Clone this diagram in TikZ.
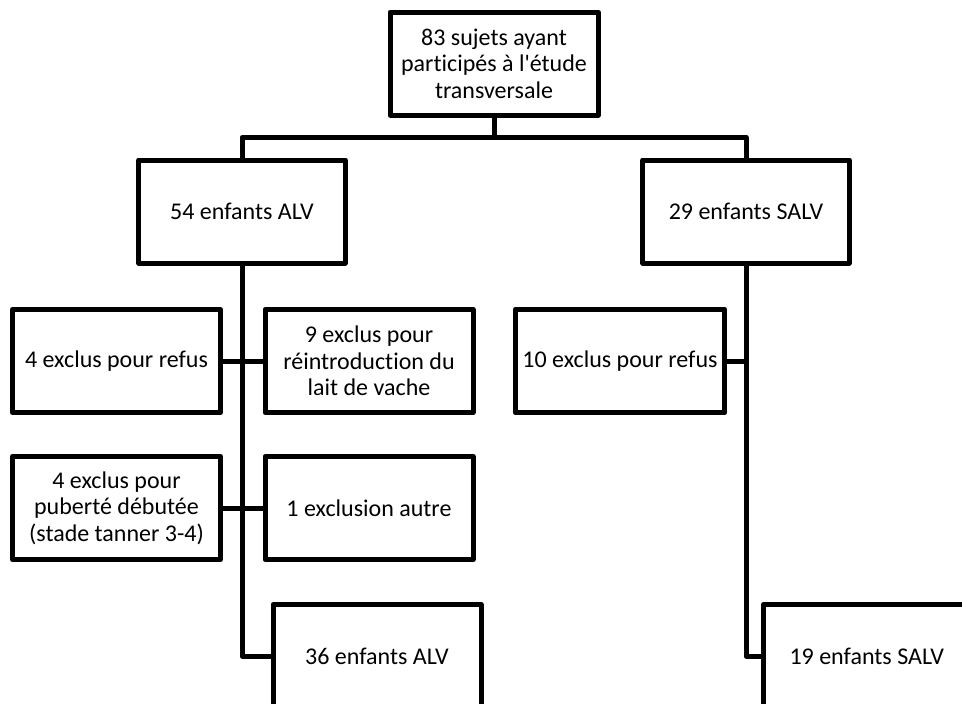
\documentclass[tikz,border=0pt]{standalone}
\usepackage{fontspec}
\setmainfont{Carlito}[Ligatures=NoCommon]
\begin{document}
\begin{tikzpicture}[x=1pt,y=-1pt,
  box/.style={draw=black,line width=5pt,fill=white,line join=round,
    minimum width=208pt,minimum height=103pt,inner sep=2pt,
    align=center,font=\fontsize{24}{26.5}\selectfont},
  link/.style={draw=black,line width=5pt,line join=round}]
\useasboundingbox (0,0) rectangle (962,704);
\clip (0,0) rectangle (962,704);

% top level
\node[box] (total) at (494,63.5) {83 sujets ayant\\participés à l\textquotesingle étude\\transversale};

% the two groups
\node[box,minimum width=206.5pt] (alv) at (242,211.5) {54 enfants ALV};
\node[box,minimum width=206.5pt] (salv) at (746,211.5) {29 enfants SALV};

% exclusions, ALV branch
\node[box] (refusA) at (116.5,361) {4 exclus pour refus};
\node[box] (lait) at (369,361) {9 exclus pour\\réintroduction du\\lait de vache};
\node[box] (puberte) at (116.5,508) {4 exclus pour\\puberté débutée\\(stade tanner 3-4)};
\node[box] (autre) at (369,508) {1 exclusion autre};

% exclusions, SALV branch
\node[box,minimum width=209.5pt] (refusS) at (620,361) {10 exclus pour refus};

% final groups
\node[box] (alvfin) at (377,656) {36 enfants ALV};
\node[box,minimum width=206.5pt] (salvfin) at (866.75,656) {19 enfants SALV};

% connectors
\coordinate (split) at (494,137.5);
\draw[link] (total.south) -- (split);
\draw[link] (alv.north) |- (split) -| (salv.north);
\draw[link] (alv.south) |- (alvfin.west);
\draw[link] (salv.south) |- (salvfin.west);
\draw[link] (refusA.east) -- (lait.west);
\draw[link] (puberte.east) -- (autre.west);
\draw[link] (refusS.east) -- (refusS.east -| salv.south);
\end{tikzpicture}
\end{document}
